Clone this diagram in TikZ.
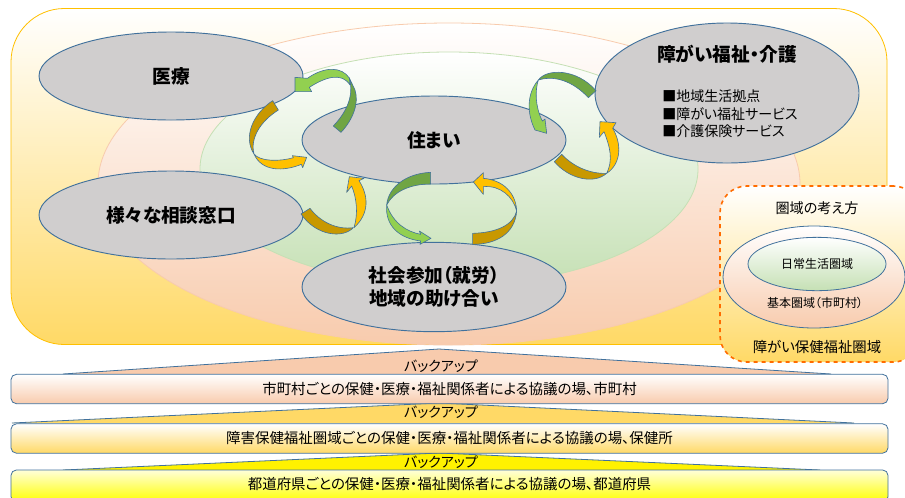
\documentclass[tikz,border=0pt]{standalone}
\usepackage{fontspec}
\setmainfont[RawFeature=+palt]{Noto Sans CJK JP}
\usetikzlibrary{shapes.geometric}
\definecolor{edgeblue}{HTML}{41719C}
\definecolor{dgreen}{HTML}{70A544}
\definecolor{lgreen}{HTML}{92D050}
\definecolor{dgold}{HTML}{C89800}
\definecolor{lgold}{HTML}{FFC000}
\definecolor{oval}{HTML}{D0CECE}
\definecolor{peach}{HTML}{F8CBAD}
\definecolor{gold}{HTML}{FFD966}
\definecolor{leaf}{HTML}{C5E0B4}
\tikzset{
  zone/.style={ellipse,inner sep=0pt},
  topic/.style={ellipse,inner sep=0pt,draw=edgeblue,line width=0.7pt,fill=oval,minimum width=198pt,minimum height=66pt,align=center,font=\bfseries\fontsize{14}{17}\selectfont},
  band/.style={draw=edgeblue,line width=0.45pt,line join=round},
  tier/.style={rounded corners=4pt,draw=edgeblue,line width=0.6pt,minimum width=657.75pt,inner sep=0pt,font=\fontsize{10.85}{12}\selectfont},
  wedge/.style={draw=edgeblue,line width=0.6pt},
  backup/.style={font=\fontsize{10.5}{11}\selectfont,inner sep=0pt},
}
\begin{document}
\begin{tikzpicture}[x=0.75pt,y=-0.75pt]
\useasboundingbox (0,0) rectangle (905,497);
\clip (0,0) rectangle (905,497);
\fill[white] (0,0) rectangle (905,497);
% region backgrounds
\node[rounded corners=40pt,draw=lgold,line width=0.6pt,top color=white,bottom color=gold,minimum width=657pt,minimum height=252pt,inner sep=0pt] (region) at (449,176.5) {};
\node[zone,draw=peach,line width=0.6pt,top color=white,bottom color=peach,minimum width=526.5pt,minimum height=241.5pt] (city) at (449,184) {};
\node[zone,draw=leaf,line width=0.6pt,top color=white,bottom color=leaf,minimum width=373.5pt,minimum height=175.5pt] (daily) at (449,169) {};
% topics
\node[topic] (med) at (171,76) {医療};
\node[topic] (consult) at (171,215) {様々な相談窓口};
\node[topic] (home) at (434,140) {住まい};
\node[topic,minimum height=67pt] (social) at (434,287) {社会参加（就労）\\地域の助け合い};
\node[topic,minimum height=105pt] (welfare) at (727,93) {};
\node[font=\bfseries\fontsize{14}{17}\selectfont,inner sep=0pt] (welfaretitle) at (727,54) {障がい福祉・介護};
\node[align=left,anchor=west,inner sep=0pt,font=\fontsize{10.5}{13}\selectfont] (welfarelist) at (662,114) {■地域生活拠点\\■障がい福祉サービス\\■介護保険サービス};
% curved arrows, in 3x zoom coordinates
\begin{scope}[shift={(230,50)},x=0.25pt,y=-0.25pt]
% top left
\draw[band,fill=lgreen] (358,84) .. controls (335,50) and (285,48) .. (232,85) -- (195,82) -- (195,125) -- (245,125) -- (238,112) .. controls (285,82) and (335,65) .. (360,105) -- cycle;
\draw[band,fill=dgreen] (310,228) -- (333,247) .. controls (368,210) and (388,160) .. (375,120) -- (358,84) .. controls (368,120) and (365,170) .. (310,228) -- cycle;
% left
\draw[band,fill=dgold] (128,152) .. controls (70,190) and (38,260) .. (72,312) .. controls (60,265) and (90,215) .. (145,180) -- cycle;
\draw[band,fill=lgold] (72,312) .. controls (90,335) and (150,335) .. (190,323) -- (187,317) -- (230,322) -- (218,353) -- (214,343) .. controls (160,365) and (95,365) .. (72,312) -- cycle;
% consult to home
\draw[band,fill=dgold] (213,492) -- (240,475) .. controls (270,515) and (320,540) .. (370,533) .. controls (340,565) and (260,560) .. (213,492) -- cycle;
\draw[band,fill=lgold] (372,533) .. controls (385,490) and (380,445) .. (365,408) -- (350,427) -- (358,380) -- (402,385) -- (387,392) .. controls (415,435) and (420,490) .. (372,533) -- cycle;
% bottom left
\draw[band,fill=lgreen] (470,465) .. controls (490,520) and (530,545) .. (572,553) -- (568,543) -- (603,565) -- (570,583) -- (572,573) .. controls (510,565) and (465,530) .. (470,465) -- cycle;
\draw[band,fill=dgreen] (602,367) -- (602,402) .. controls (540,402) and (490,425) .. (470,465) .. controls (475,410) and (530,370) .. (602,367) -- cycle;
% bottom right
\draw[band,fill=lgold] (860,483) .. controls (850,440) and (810,405) .. (760,410) -- (760,433) -- (730,396) -- (760,368) -- (760,385) .. controls (820,390) and (858,430) .. (860,483) -- cycle;
\draw[band,fill=dgold] (728,550) -- (728,583) .. controls (800,583) and (855,550) .. (860,483) .. controls (850,525) and (800,548) .. (728,550) -- cycle;
% top right
\draw[band,fill=lgreen] (925,90) .. controls (890,130) and (890,190) .. (915,240) -- (950,250) -- (945,207) -- (937,213) .. controls (915,170) and (915,120) .. (925,90) -- cycle;
\draw[band,fill=dgreen] (1098,122) -- (1075,143) .. controls (1040,105) and (985,72) .. (925,90) .. controls (950,55) and (1040,55) .. (1098,122) -- cycle;
% right
\draw[band,fill=dgold] (973,335) -- (995,313) .. controls (1030,350) and (1080,372) .. (1130,370) .. controls (1090,405) and (1015,385) .. (973,335) -- cycle;
\draw[band,fill=lgold] (1130,370) .. controls (1150,330) and (1140,290) .. (1122,245) -- (1108,262) -- (1110,215) -- (1158,218) -- (1148,235) .. controls (1175,280) and (1175,340) .. (1130,370) -- cycle;
\end{scope}
% inset
\node[rounded corners=20pt,draw=orange!85!red,dashed,line width=1.2pt,top color=white,bottom color=gold,minimum width=150pt,minimum height=132pt,inner sep=0pt] (inset) at (820,274) {};
\node[font=\fontsize{10.6}{12}\selectfont,inner sep=0pt] (insettitle) at (817,208) {圏域の考え方};
\node[zone,draw=edgeblue,line width=0.6pt,top color=white,bottom color=peach,minimum width=136.5pt,minimum height=76.5pt] (basic) at (814,277) {};
\node[zone,draw=edgeblue,line width=0.6pt,top color=white,bottom color=leaf,minimum width=103.5pt,minimum height=40pt] (dailyin) at (817,264) {};
\node[font=\fontsize{9}{10}\selectfont,inner sep=0pt] (dailylabel) at (817,264) {日常生活圏域};
\node[font=\fontsize{9}{10}\selectfont,inner sep=0pt] (basiclabel) at (815,303) {基本圏域（市町村）};
\node[font=\fontsize{10.8}{12}\selectfont,inner sep=0pt] (insetbottom) at (817,347) {障がい保健福祉圏域};
% tiers
\coordinate (a1) at (439,349); \coordinate (b1l) at (63,374); \coordinate (b1r) at (831,374);
\coordinate (a2) at (439,403); \coordinate (b2l) at (12,423); \coordinate (b2r) at (854,423);
\coordinate (a3) at (439,453); \coordinate (b3l) at (63,470); \coordinate (b3r) at (820,470);
\fill[peach] (b1l) -- (a1) -- (b1r) -- cycle; \draw[wedge] (b1l) -- (a1) -- (b1r);
\fill[gold] (b2l) -- (a2) -- (b2r) -- cycle; \draw[wedge] (b2l) -- (a2) -- (b2r);
\fill[yellow] (b3l) -- (a3) -- (b3r) -- cycle; \draw[wedge] (b3l) -- (a3) -- (b3r);
\node[backup] (bk1) at (441,366) {バックアップ};
\node[backup] (bk2) at (441,412) {バックアップ};
\node[backup] (bk3) at (441,462) {バックアップ};
\node[tier,top color=white,bottom color=peach,minimum height=22pt] (t1) at (449.5,389) {市町村ごとの保健・医療・福祉関係者による協議の場、市町村};
\node[tier,top color=white,bottom color=gold,minimum height=22pt] (t2) at (449.5,438.5) {障害保健福祉圏域ごとの保健・医療・福祉関係者による協議の場、保健所};
\node[tier,top color=white!85!yellow,bottom color=yellow,minimum height=24pt,text height=7pt,text depth=2pt] (t3) at (449.5,486) {都道府県ごとの保健・医療・福祉関係者による協議の場、都道府県};
\end{tikzpicture}
\end{document}
